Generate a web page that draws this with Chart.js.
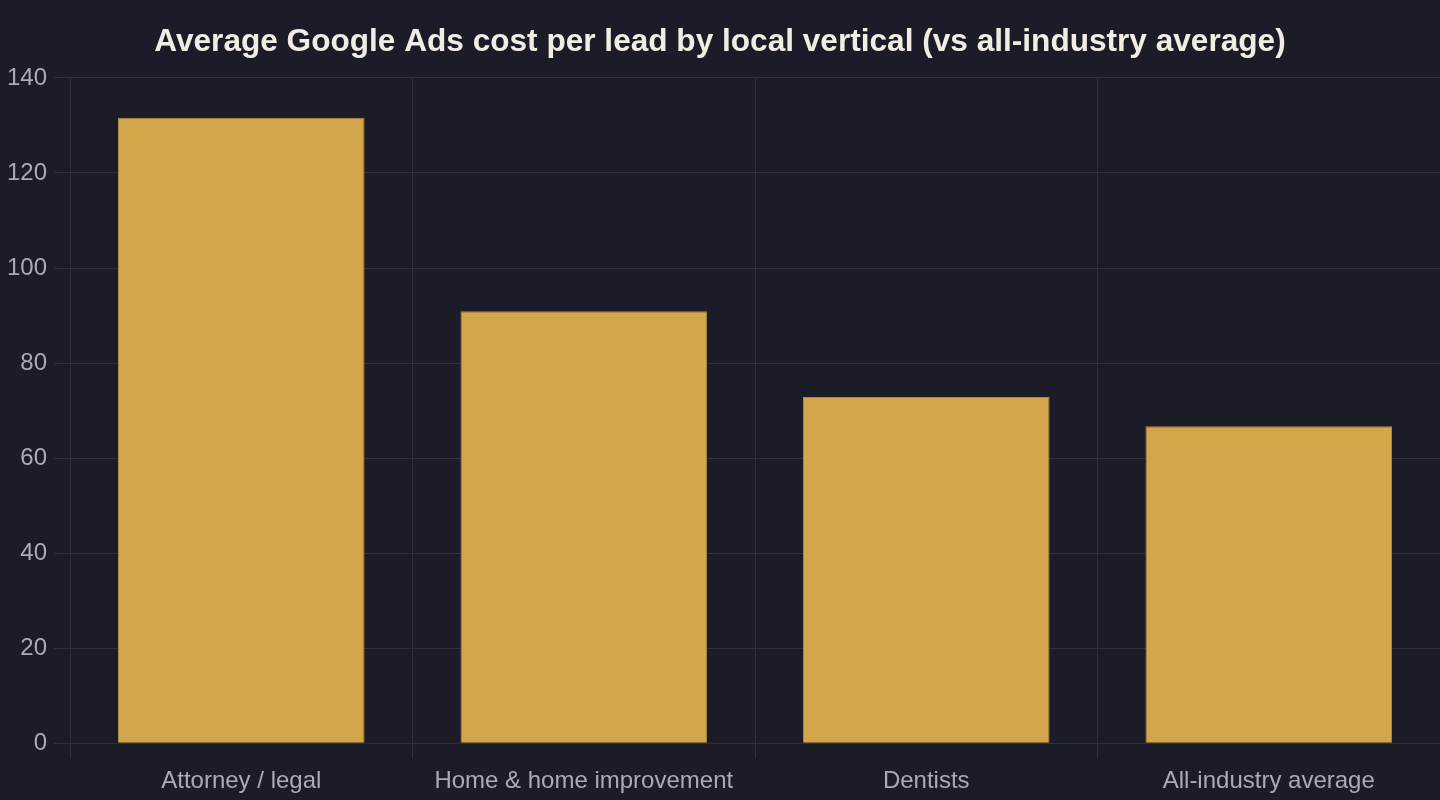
<!DOCTYPE html>
<html>
<head>
<meta charset="utf-8">
<script src="https://cdn.jsdelivr.net/npm/chart.js@4"></script>
<style>
  html, body { margin: 0; padding: 0; background: #1b1c27; }
  #wrap { width: 1440px; height: 800px; }
</style>
</head>
<body>
<div id="wrap"><canvas id="chart" width="1440" height="800"></canvas></div>
<script>
const CATEGORIES = ["Attorney / legal", "Home & home improvement", "Dentists", "All-industry average"];
const COST_PER_LEAD = [131.63, 90.92, 72.85, 66.69];
const Y_MIN = 0;
const Y_MAX = 140;
const Y_STEP = 20;

const FONT = "'Liberation Sans', Arial, sans-serif";

new Chart(document.getElementById("chart"), {
  type: 'bar',
  data: {
    labels: CATEGORIES,
    datasets: [{
      label: 'Cost per lead',
      data: COST_PER_LEAD,
      backgroundColor: '#d4a64c',
      borderColor: '#b08a42',
      borderWidth: 1
    }]
  },
  options: {
    responsive: false,
    animation: false,
    layout: { padding: { left: 0, right: 0, top: 0, bottom: -5 } },
    plugins: {
      legend: { display: false },
      tooltip: { enabled: false },
      title: {
        display: true,
        text: 'Average Google Ads cost per lead by local vertical (vs all-industry average)',
        color: '#f2ede4',
        font: { family: FONT, size: 31.6, weight: 'bold' },
        padding: { top: 23, bottom: 17 }
      }
    },
    scales: {
      y: {
        min: Y_MIN,
        max: Y_MAX,
        ticks: { stepSize: Y_STEP, color: '#a9abb8', font: { family: FONT, size: 24 }, padding: 7 },
        grid: { color: '#2e303e', tickLength: 16 },
        border: { color: '#2e303e' }
      },
      x: {
        ticks: { color: '#a9abb8', font: { family: FONT, size: 24 }, padding: 9, maxRotation: 0 },
        grid: { color: '#2e303e', tickLength: 15 },
        border: { color: '#2e303e' }
      }
    }
  }
});
</script>
</body>
</html>
